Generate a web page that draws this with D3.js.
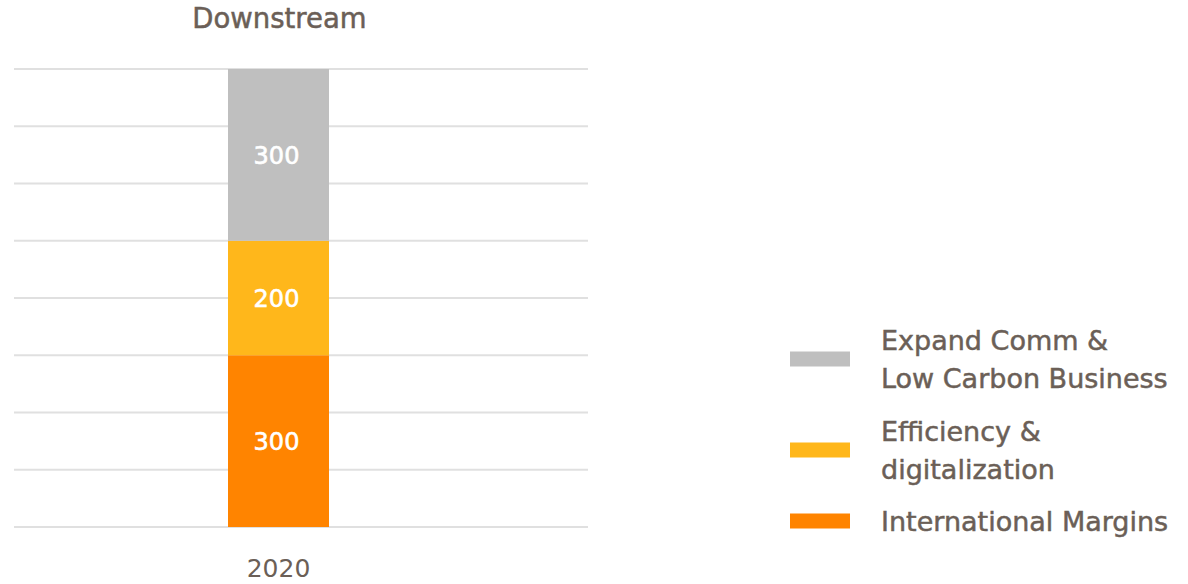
<!DOCTYPE html>
<html>
<head>
<meta charset="utf-8">
<script src="https://cdn.jsdelivr.net/npm/d3@7"></script>
<style>
  body { margin: 0; background: #fff; }
  text { font-family: "DejaVu Sans", sans-serif; }
</style>
</head>
<body>
<div id="chart"></div>
<script>
// Data
const categories = ["2020"];
const seriesKeys = ["intl", "eff", "comm"];
const intlValues = [300];
const effValues = [200];
const commValues = [300];
const legendLines = [["Expand Comm &", "Low Carbon Business"], ["Efficiency &", "digitalization"], ["International Margins"]];
const yTicks = [0, 100, 200, 300, 400, 500, 600, 700, 800];

const colors = {intl: "#ff8400", eff: "#ffb71b", comm: "#bfbfbf"};
const textColor = "#6b5f57";

const W = 1188, H = 584;
const svg = d3.select("#chart").append("svg")
    .attr("width", W)
    .attr("height", H);

const table = categories.map((c, i) => ({cat: c, intl: intlValues[i], eff: effValues[i], comm: commValues[i]}));
const stacked = d3.stack().keys(seriesKeys)(table);

const y = d3.scaleLinear().domain([0, 800]).range([527, 69]);
const x = d3.scaleBand().domain(categories).range([228, 329]).padding(0);

// Gridlines
svg.append("g")
  .selectAll("line")
  .data(yTicks)
  .enter().append("line")
    .attr("x1", 14)
    .attr("x2", 588)
    .attr("y1", d => y(d))
    .attr("y2", d => y(d))
    .style("stroke", "#e0e0e0")
    .style("stroke-width", 2);

// Bars
const layer = svg.selectAll(".layer")
    .data(stacked)
  .enter().append("g")
    .attr("class", "layer")
    .style("fill", d => colors[d.key]);

layer.selectAll("rect")
    .data(d => d)
  .enter().append("rect")
    .attr("x", d => x(d.data.cat))
    .attr("width", x.bandwidth())
    .attr("y", d => y(d[1]))
    .attr("height", d => y(d[0]) - y(d[1]));

// Value labels
layer.selectAll("text")
    .data(d => d)
  .enter().append("text")
    .attr("x", d => x(d.data.cat) + x.bandwidth() / 2 - 2)
    .attr("y", d => (y(d[0]) + y(d[1])) / 2)
    .attr("dy", "0.36em")
    .attr("text-anchor", "middle")
    .style("fill", "#fff")
    .style("stroke", "#fff")
    .style("stroke-width", 0.6)
    .style("font-size", "24px")
    .text(d => d[1] - d[0]);

// Title
svg.append("text")
    .attr("x", x(categories[0]) + x.bandwidth() / 2 + 1)
    .attr("y", 28)
    .attr("text-anchor", "middle")
    .style("fill", textColor)
    .style("stroke", textColor)
    .style("stroke-width", 0.5)
    .style("font-size", "27.5px")
    .text("Downstream");

// X axis label
svg.append("g")
    .attr("transform", "translate(0,527)")
    .call(d3.axisBottom(x).tickSize(0).tickPadding(32))
    .call(g => g.select(".domain").remove())
    .selectAll("text")
    .style("fill", textColor)
    .style("font-size", "25px")
    .style("font-family", "'DejaVu Sans', sans-serif");

// Legend
const legendY = [359, 450, 521];
const legendKeys = ["comm", "eff", "intl"];
const legend = svg.selectAll(".legend")
    .data(legendKeys)
  .enter().append("g")
    .attr("class", "legend")
    .attr("transform", (d, i) => "translate(790," + legendY[i] + ")");

legend.append("rect")
    .attr("x", 0)
    .attr("y", -7.5)
    .attr("width", 60)
    .attr("height", 15)
    .style("fill", d => colors[d]);

legend.append("text")
    .attr("x", 91)
    .style("fill", textColor)
    .style("stroke", textColor)
    .style("stroke-width", 0.5)
    .style("font-size", "27px")
    .each(function(d, i) {
        const lines = legendLines[i];
        const t = d3.select(this);
        lines.forEach((l, j) => {
            t.append("tspan")
                .attr("x", 91)
                .attr("y", lines.length === 1 ? 0 : (j === 0 ? -19 : 19))
                .attr("dy", "0.36em")
                .text(l);
        });
    });
</script>
</body>
</html>
